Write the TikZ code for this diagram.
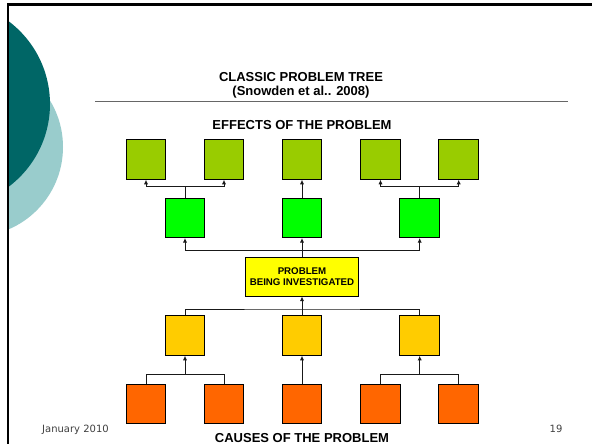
\documentclass[tikz,border=0pt]{standalone}
\usepackage{fontspec}
\setmainfont{Liberation Sans}
\newfontfamily\footfont{DejaVu Sans}
\usepackage{tikz}
\usepackage{xcolor}
\usetikzlibrary{
    arrows.meta,
    calc,
    positioning
}
\definecolor{tealdark}{HTML}{006666}
\definecolor{teallight}{HTML}{99CCCC}
\definecolor{effa}{HTML}{99CC00}
\definecolor{effb}{HTML}{00FF00}
\definecolor{probc}{HTML}{FFFF00}
\definecolor{causeb}{HTML}{FFCC00}
\definecolor{causea}{HTML}{FF6600}
\tikzset{bx/.style={inner sep=0pt, minimum size=39.5pt, draw=black, line width=1pt}}
\tikzset{topbox/.style={bx, fill=effa}}
\tikzset{midbox/.style={bx, fill=effb}}
\tikzset{lowbox/.style={bx, fill=causeb}}
\tikzset{rootbox/.style={bx, fill=causea}}
\tikzset{link/.style={line width=0.95pt, draw=black!90}}
\tikzset{arr/.style={link, -{Latex[length=4.5pt,width=4.2pt]}}}
\tikzset{hd/.style={font=\fontsize{13}{15}\selectfont\bfseries, inner sep=0pt, anchor=base}}

\begin{document}
\begin{tikzpicture}[x=1pt, y=-1pt]
                        \useasboundingbox (0,0) rectangle (592,444);
                        \fill[white] (0,0) rectangle (592,444);

                        % slide decoration
                        \begin{scope}
                        \clip (9,6) rectangle (592,444);
                        \fill[teallight] (-26.5,147) circle (89.5);
                        \fill[tealdark] (-53.5,104) circle (103.5);
                        \end{scope}
                        \draw[line width=2.6pt] (8,444) -- (8,4.7) -- (592,4.7);

                        \node[hd] (ttl) at (301,81.5) {CLASSIC PROBLEM TREE};
                        \node[hd] (src) at (301,95.5) {(Snowden et al.. 2008)};
                        \draw[line width=1.3pt, black!60] (95,101.7) -- (568,101.7);

                        \node[hd] (eff) at (302,129) {EFFECTS OF THE PROBLEM};
                        \node[hd] (cau) at (302,442.6) {CAUSES OF THE PROBLEM};

                        \node[topbox] (e1) at (146,159.5) {};
                        \node[topbox] (e2) at (224,159.5) {};
                        \node[topbox] (e3) at (302,159.5) {};
                        \node[topbox] (e4) at (380.5,159.5) {};
                        \node[topbox] (e5) at (458.7,159.5) {};

                        \node[midbox] (m1) at (185,217.8) {};
                        \node[midbox] (m2) at (302,217.8) {};
                        \node[midbox] (m3) at (419.7,217.8) {};

                        \node[bx, fill=probc, minimum width=112.5pt, minimum height=38.7pt,
                              align=center, font=\fontsize{9.7}{11.6}\selectfont\bfseries]
                              (prob) at (302,276.7) {PROBLEM\\BEING INVESTIGATED};

                        \node[lowbox] (c1) at (185,335.5) {};
                        \node[lowbox] (c2) at (302,335.5) {};
                        \node[lowbox] (c3) at (419.7,335.5) {};

                        \node[rootbox] (r1) at (146,404) {};
                        \node[rootbox] (r2) at (224,404) {};
                        \node[rootbox] (r3) at (302,404) {};
                        \node[rootbox] (r4) at (380.5,404) {};
                        \node[rootbox] (r5) at (458.7,404) {};

                        \coordinate (ej1) at (185,186.7);
                        \coordinate (ej3) at (419.7,186.7);
                        \coordinate (mj) at (302,250);
                        \coordinate (pj) at (302,309);
                        \coordinate (cj1) at (185,374.3);
                        \coordinate (cj3) at (419.7,374.3);

                        % effects
                        \draw[link] (m1.north) -- (ej1);
                        \draw[arr] (ej1) -| (e1.south);
                        \draw[arr] (ej1) -| (e2.south);
                        \draw[arr] (m2.north) -- (e3.south);
                        \draw[link] (m3.north) -- (ej3);
                        \draw[arr] (ej3) -| (e4.south);
                        \draw[arr] (ej3) -| (e5.south);

                        \draw[link] (prob.north) -- (mj);
                        \draw[arr] (mj) -| (m1.south);
                        \draw[arr] (mj) -| (m3.south);
                        \draw[arr] (mj) -- (m2.south);

                        % causes
                        \draw[link] (c1.north) |- (pj) -| (c3.north);
                        \draw[arr] (c2.north) -- (prob.south);

                        \draw[link] (r1.north) |- (cj1) -| (r2.north);
                        \draw[arr] (cj1) -- (c1.south);
                        \draw[arr] (r3.north) -- (c2.south);
                        \draw[link] (r4.north) |- (cj3) -| (r5.north);
                        \draw[arr] (cj3) -- (c3.south);

                        \node[font=\footfont\fontsize{10}{12}\selectfont, text=black!75, anchor=base, inner sep=0pt]
                              (date) at (75.5,432) {January 2010};
                        \node[font=\footfont\fontsize{10}{12}\selectfont, text=black!75, anchor=base, inner sep=0pt]
                              (pg) at (556,432.5) {19};
                    \end{tikzpicture}
\end{document}
